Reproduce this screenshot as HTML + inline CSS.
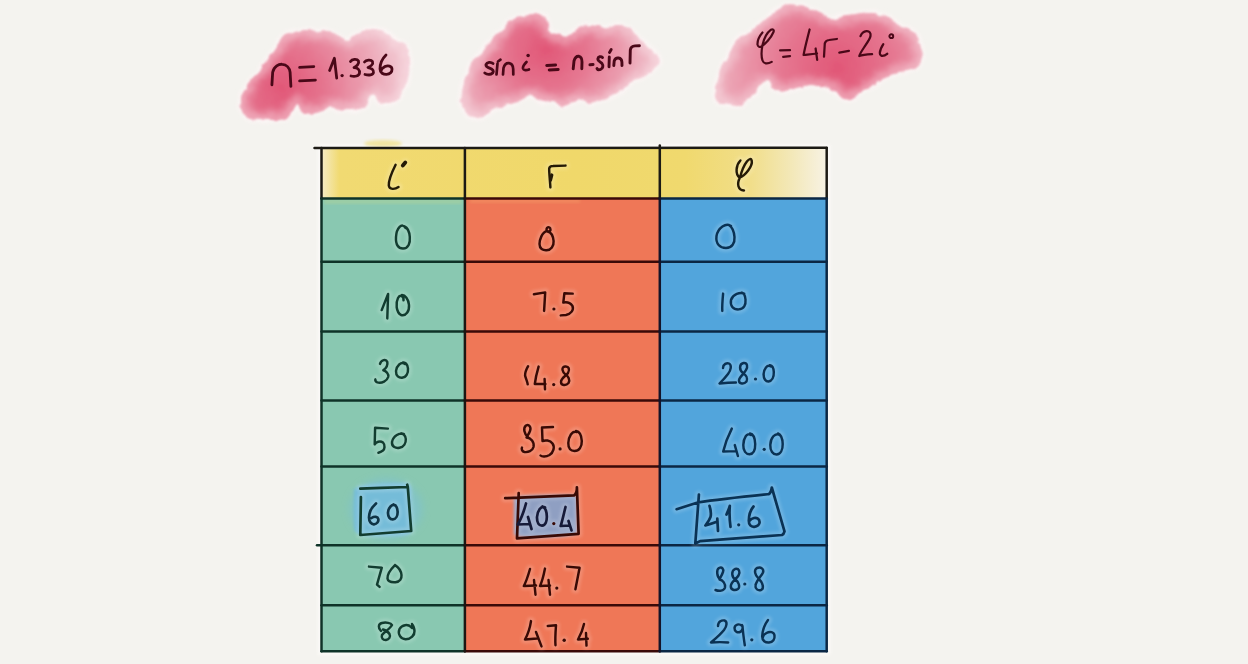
<!DOCTYPE html>
<html><head><meta charset="utf-8">
<style>
html,body{margin:0;padding:0;background:#f4f3ef;}
body{width:1248px;height:664px;overflow:hidden;position:relative;font-family:"Liberation Sans",sans-serif;}
svg{position:absolute;left:0;top:0;display:block;filter:blur(0.4px);}
.mul{mix-blend-mode:multiply;}
</style></head><body>
<svg width="1248" height="664" viewBox="0 0 1248 664">
<defs>
<filter id="rough" x="-10%" y="-10%" width="120%" height="120%">
<feTurbulence type="fractalNoise" baseFrequency="0.09" numOctaves="3" seed="3" result="n"/>
<feDisplacementMap in="SourceGraphic" in2="n" scale="6" xChannelSelector="R" yChannelSelector="G" result="d"/>
<feGaussianBlur in="d" stdDeviation="0.8"/>
</filter>
<filter id="halo" x="-10%" y="-10%" width="120%" height="120%">
<feTurbulence type="fractalNoise" baseFrequency="0.09" numOctaves="3" seed="3" result="n"/>
<feDisplacementMap in="SourceGraphic" in2="n" scale="6" xChannelSelector="R" yChannelSelector="G" result="d"/>
<feGaussianBlur in="d" stdDeviation="2"/>
</filter>
<filter id="blur4" x="-20%" y="-20%" width="140%" height="140%"><feGaussianBlur stdDeviation="4"/></filter>
<filter id="soft" x="-20%" y="-20%" width="140%" height="140%"><feGaussianBlur stdDeviation="1.6"/></filter>
<radialGradient id="pk1" gradientUnits="userSpaceOnUse" cx="282" cy="88" r="120">
<stop offset="0" stop-color="#e15777"/><stop offset="0.35" stop-color="#e5758f"/><stop offset="0.75" stop-color="#eca6b6"/><stop offset="1" stop-color="#f2c6d0"/>
</radialGradient>
<radialGradient id="pk2" gradientUnits="userSpaceOnUse" cx="545" cy="50" r="115">
<stop offset="0" stop-color="#e15777"/><stop offset="0.35" stop-color="#e5758f"/><stop offset="0.75" stop-color="#eca6b6"/><stop offset="1" stop-color="#f2c6d0"/>
</radialGradient>
<radialGradient id="pk3" gradientUnits="userSpaceOnUse" cx="838" cy="68" r="150">
<stop offset="0" stop-color="#e15777"/><stop offset="0.35" stop-color="#e5758f"/><stop offset="0.75" stop-color="#eca6b6"/><stop offset="1" stop-color="#f2c6d0"/>
</radialGradient>
<linearGradient id="yl" gradientUnits="userSpaceOnUse" x1="321.5" y1="0" x2="826.7" y2="0">
<stop offset="0" stop-color="#f5ebc6"/><stop offset="0.035" stop-color="#f1da72"/><stop offset="0.5" stop-color="#f0d86a"/><stop offset="0.72" stop-color="#f0d96e"/><stop offset="0.85" stop-color="#f1de8a"/><stop offset="0.93" stop-color="#f3e8b8"/><stop offset="1" stop-color="#f7f2e4"/>
</linearGradient>
</defs>
<g filter="url(#halo)" fill="none" stroke="#fdf6f6" stroke-width="5">
<path d="M265.1,63.6 C267.2,60.7 270.2,55.9 272.8,52.0 C275.4,48.1 278.4,43.5 280.5,40.5 C282.6,37.5 282.6,35.6 285.6,34.1 C288.6,32.6 294.2,32.1 298.5,31.5 C302.8,30.9 307.0,30.3 311.3,30.3 C315.6,30.3 319.8,30.9 324.1,31.5 C328.4,32.1 333.0,32.6 336.9,34.1 C340.8,35.6 344.6,40.1 347.2,40.5 C349.8,40.9 349.7,38.2 352.3,36.7 C354.9,35.2 359.2,32.8 362.6,31.5 C366.0,30.2 369.4,29.0 372.8,29.0 C376.2,29.0 379.2,29.8 383.1,31.5 C387.0,33.2 392.5,37.3 395.9,39.2 C399.3,41.1 401.7,41.6 403.6,43.1 C405.5,44.6 406.5,45.6 407.4,48.2 C408.2,50.8 408.4,54.9 408.7,58.5 C409.0,62.1 409.4,66.4 409.2,70.0 C409.0,73.6 408.4,76.8 407.5,80.0 C406.6,83.2 405.6,86.2 404.1,89.4 C402.6,92.6 400.9,96.9 398.3,99.2 C395.7,101.5 391.8,102.7 388.5,103.0 C385.2,103.3 381.1,102.5 378.7,101.1 C376.2,99.6 375.4,94.6 373.8,94.3 C372.2,94.0 371.1,96.9 369.0,99.2 C366.9,101.5 364.4,106.2 361.1,108.0 C357.8,109.8 353.0,109.8 349.4,110.0 C345.8,110.2 342.9,109.4 339.6,108.9 C336.3,108.4 332.7,106.6 329.8,107.0 C326.9,107.4 325.0,110.4 322.0,111.5 C319.0,112.6 314.9,113.3 312.0,113.5 C309.1,113.7 306.3,113.6 304.4,112.8 C302.5,112.0 301.6,110.5 300.5,108.9 C299.4,107.3 298.8,103.0 297.5,103.0 C296.2,103.0 294.7,106.3 292.6,108.9 C290.5,111.5 289.5,116.9 284.8,118.7 C280.1,120.5 270.1,119.7 264.2,119.7 C258.3,119.7 252.8,119.5 249.6,118.7 C246.3,117.9 246.3,116.8 244.7,114.8 C243.1,112.8 240.4,109.8 239.8,107.0 C239.2,104.2 240.0,100.9 241.0,98.0 C242.0,95.1 243.6,93.0 245.7,89.4 C247.8,85.8 251.1,79.9 253.5,76.6 C255.9,73.3 258.1,71.7 260.0,69.5 C261.9,67.3 263.0,66.5 265.1,63.6 Z"/>
<path d="M471.8,65.0 C474.0,61.7 477.4,57.3 480.2,53.8 C483.0,50.2 485.9,46.8 488.7,43.7 C491.5,40.6 494.6,38.1 497.1,35.3 C499.6,32.5 501.6,29.4 503.8,26.9 C506.0,24.4 507.4,22.1 510.5,20.1 C513.6,18.1 518.1,16.1 522.3,15.1 C526.5,14.1 532.1,14.0 535.8,14.3 C539.4,14.6 542.4,15.3 544.2,16.8 C546.0,18.3 545.9,21.3 546.7,23.5 C547.5,25.7 547.7,28.4 549.2,30.2 C550.8,32.0 553.5,33.1 556.0,34.4 C558.5,35.7 562.2,37.5 564.4,37.8 C566.6,38.1 567.4,37.4 569.4,36.1 C571.4,34.8 573.4,31.9 576.2,30.2 C579.0,28.5 582.6,26.7 586.2,26.0 C589.8,25.3 594.6,25.6 598.0,26.0 C601.4,26.4 603.3,28.6 606.4,28.6 C609.5,28.6 612.9,26.1 616.5,26.0 C620.1,25.9 625.2,26.4 628.3,27.7 C631.4,29.0 633.0,31.5 635.0,33.6 C637.0,35.7 637.9,38.0 640.1,40.3 C642.4,42.5 646.0,44.9 648.5,47.1 C651.0,49.4 653.5,51.6 655.2,53.8 C656.9,56.0 658.3,58.5 658.6,60.5 C658.9,62.5 658.0,64.1 656.9,66.0 C655.8,67.9 654.1,70.0 651.9,71.8 C649.7,73.6 646.6,75.1 643.5,76.8 C640.4,78.5 636.8,79.9 633.4,81.9 C630.0,83.9 626.7,86.4 623.3,88.6 C619.9,90.8 616.9,93.3 613.2,95.3 C609.6,97.3 605.3,99.0 601.4,100.4 C597.5,101.8 593.0,104.0 589.6,103.7 C586.2,103.4 584.0,99.0 581.2,98.7 C578.4,98.4 575.9,101.0 572.8,102.1 C569.7,103.2 566.1,105.4 562.7,105.4 C559.3,105.4 556.0,102.9 552.6,102.1 C549.2,101.3 545.9,101.4 542.5,100.4 C539.1,99.4 535.2,96.8 532.4,96.2 C529.6,95.6 528.2,96.0 525.7,97.0 C523.2,98.0 520.7,100.7 517.3,102.1 C513.9,103.5 509.7,104.0 505.5,105.4 C501.3,106.8 496.2,108.5 492.0,110.5 C487.8,112.5 483.8,116.4 480.2,117.2 C476.6,118.0 472.9,116.9 470.1,115.5 C467.3,114.1 464.8,111.6 463.4,108.8 C462.0,106.0 461.7,102.6 461.7,98.7 C461.7,94.8 462.5,89.4 463.4,85.2 C464.2,81.0 465.4,76.9 466.8,73.5 C468.2,70.1 469.6,68.3 471.8,65.0 Z"/>
<path d="M727.1,60.0 C728.6,57.8 730.8,51.3 732.6,47.9 C734.5,44.5 735.1,42.4 738.2,39.6 C741.3,36.8 746.8,34.5 751.1,31.3 C755.4,28.1 760.3,23.4 764.0,20.3 C767.7,17.2 770.1,15.1 773.2,12.9 C776.3,10.8 779.0,8.8 782.4,7.4 C785.8,6.0 789.5,4.6 793.5,4.6 C797.5,4.6 802.1,6.0 806.4,7.4 C810.7,8.8 815.9,11.1 819.3,12.9 C822.7,14.7 824.1,17.3 826.6,18.4 C829.1,19.5 830.9,19.7 834.0,19.4 C837.1,19.1 841.0,17.4 845.0,16.6 C849.0,15.8 853.7,15.3 858.0,14.7 C862.3,14.1 866.9,12.9 870.9,12.9 C874.9,12.9 878.2,13.5 881.9,14.7 C885.6,15.9 889.9,18.4 893.0,20.3 C896.1,22.2 897.9,24.6 900.4,25.8 C902.9,27.0 905.2,26.1 907.7,27.6 C910.2,29.1 913.0,31.9 915.1,35.0 C917.2,38.1 919.4,42.8 920.6,46.1 C921.8,49.4 922.8,51.9 922.5,55.0 C922.2,58.1 920.9,62.2 918.8,64.7 C916.6,67.2 913.0,69.1 909.6,70.3 C906.2,71.5 901.9,71.2 898.5,72.1 C895.1,73.0 892.4,74.3 889.3,75.8 C886.2,77.3 883.2,79.4 880.1,81.3 C877.0,83.2 874.0,85.1 870.9,86.9 C867.8,88.8 864.8,90.4 861.7,92.4 C858.6,94.4 855.8,97.9 852.4,98.8 C849.0,99.7 844.5,99.3 841.4,97.9 C838.3,96.5 836.8,92.3 834.0,90.5 C831.2,88.7 828.8,87.8 824.8,86.9 C820.8,86.0 814.6,84.8 810.0,85.0 C805.4,85.2 801.7,86.7 797.1,87.8 C792.5,88.9 786.4,91.3 782.4,91.5 C778.4,91.7 775.7,90.4 773.2,88.7 C770.8,87.0 769.6,82.2 767.7,81.3 C765.9,80.4 764.6,81.0 762.1,83.2 C759.6,85.4 756.3,90.8 752.9,94.2 C749.5,97.6 745.6,101.6 741.9,103.4 C738.2,105.2 734.5,105.6 730.8,105.3 C727.1,105.0 722.3,103.8 719.7,101.6 C717.1,99.4 715.7,95.5 715.1,92.4 C714.5,89.3 715.3,86.6 716.1,83.2 C716.9,79.8 718.5,75.8 719.7,72.1 C720.9,68.4 722.2,63.1 723.4,61.1 C724.6,59.1 725.6,62.2 727.1,60.0 Z"/>
</g>
<clipPath id="cb1"><path d="M265.1,63.6 C267.2,60.7 270.2,55.9 272.8,52.0 C275.4,48.1 278.4,43.5 280.5,40.5 C282.6,37.5 282.6,35.6 285.6,34.1 C288.6,32.6 294.2,32.1 298.5,31.5 C302.8,30.9 307.0,30.3 311.3,30.3 C315.6,30.3 319.8,30.9 324.1,31.5 C328.4,32.1 333.0,32.6 336.9,34.1 C340.8,35.6 344.6,40.1 347.2,40.5 C349.8,40.9 349.7,38.2 352.3,36.7 C354.9,35.2 359.2,32.8 362.6,31.5 C366.0,30.2 369.4,29.0 372.8,29.0 C376.2,29.0 379.2,29.8 383.1,31.5 C387.0,33.2 392.5,37.3 395.9,39.2 C399.3,41.1 401.7,41.6 403.6,43.1 C405.5,44.6 406.5,45.6 407.4,48.2 C408.2,50.8 408.4,54.9 408.7,58.5 C409.0,62.1 409.4,66.4 409.2,70.0 C409.0,73.6 408.4,76.8 407.5,80.0 C406.6,83.2 405.6,86.2 404.1,89.4 C402.6,92.6 400.9,96.9 398.3,99.2 C395.7,101.5 391.8,102.7 388.5,103.0 C385.2,103.3 381.1,102.5 378.7,101.1 C376.2,99.6 375.4,94.6 373.8,94.3 C372.2,94.0 371.1,96.9 369.0,99.2 C366.9,101.5 364.4,106.2 361.1,108.0 C357.8,109.8 353.0,109.8 349.4,110.0 C345.8,110.2 342.9,109.4 339.6,108.9 C336.3,108.4 332.7,106.6 329.8,107.0 C326.9,107.4 325.0,110.4 322.0,111.5 C319.0,112.6 314.9,113.3 312.0,113.5 C309.1,113.7 306.3,113.6 304.4,112.8 C302.5,112.0 301.6,110.5 300.5,108.9 C299.4,107.3 298.8,103.0 297.5,103.0 C296.2,103.0 294.7,106.3 292.6,108.9 C290.5,111.5 289.5,116.9 284.8,118.7 C280.1,120.5 270.1,119.7 264.2,119.7 C258.3,119.7 252.8,119.5 249.6,118.7 C246.3,117.9 246.3,116.8 244.7,114.8 C243.1,112.8 240.4,109.8 239.8,107.0 C239.2,104.2 240.0,100.9 241.0,98.0 C242.0,95.1 243.6,93.0 245.7,89.4 C247.8,85.8 251.1,79.9 253.5,76.6 C255.9,73.3 258.1,71.7 260.0,69.5 C261.9,67.3 263.0,66.5 265.1,63.6 Z"/></clipPath>
<clipPath id="cb2"><path d="M471.8,65.0 C474.0,61.7 477.4,57.3 480.2,53.8 C483.0,50.2 485.9,46.8 488.7,43.7 C491.5,40.6 494.6,38.1 497.1,35.3 C499.6,32.5 501.6,29.4 503.8,26.9 C506.0,24.4 507.4,22.1 510.5,20.1 C513.6,18.1 518.1,16.1 522.3,15.1 C526.5,14.1 532.1,14.0 535.8,14.3 C539.4,14.6 542.4,15.3 544.2,16.8 C546.0,18.3 545.9,21.3 546.7,23.5 C547.5,25.7 547.7,28.4 549.2,30.2 C550.8,32.0 553.5,33.1 556.0,34.4 C558.5,35.7 562.2,37.5 564.4,37.8 C566.6,38.1 567.4,37.4 569.4,36.1 C571.4,34.8 573.4,31.9 576.2,30.2 C579.0,28.5 582.6,26.7 586.2,26.0 C589.8,25.3 594.6,25.6 598.0,26.0 C601.4,26.4 603.3,28.6 606.4,28.6 C609.5,28.6 612.9,26.1 616.5,26.0 C620.1,25.9 625.2,26.4 628.3,27.7 C631.4,29.0 633.0,31.5 635.0,33.6 C637.0,35.7 637.9,38.0 640.1,40.3 C642.4,42.5 646.0,44.9 648.5,47.1 C651.0,49.4 653.5,51.6 655.2,53.8 C656.9,56.0 658.3,58.5 658.6,60.5 C658.9,62.5 658.0,64.1 656.9,66.0 C655.8,67.9 654.1,70.0 651.9,71.8 C649.7,73.6 646.6,75.1 643.5,76.8 C640.4,78.5 636.8,79.9 633.4,81.9 C630.0,83.9 626.7,86.4 623.3,88.6 C619.9,90.8 616.9,93.3 613.2,95.3 C609.6,97.3 605.3,99.0 601.4,100.4 C597.5,101.8 593.0,104.0 589.6,103.7 C586.2,103.4 584.0,99.0 581.2,98.7 C578.4,98.4 575.9,101.0 572.8,102.1 C569.7,103.2 566.1,105.4 562.7,105.4 C559.3,105.4 556.0,102.9 552.6,102.1 C549.2,101.3 545.9,101.4 542.5,100.4 C539.1,99.4 535.2,96.8 532.4,96.2 C529.6,95.6 528.2,96.0 525.7,97.0 C523.2,98.0 520.7,100.7 517.3,102.1 C513.9,103.5 509.7,104.0 505.5,105.4 C501.3,106.8 496.2,108.5 492.0,110.5 C487.8,112.5 483.8,116.4 480.2,117.2 C476.6,118.0 472.9,116.9 470.1,115.5 C467.3,114.1 464.8,111.6 463.4,108.8 C462.0,106.0 461.7,102.6 461.7,98.7 C461.7,94.8 462.5,89.4 463.4,85.2 C464.2,81.0 465.4,76.9 466.8,73.5 C468.2,70.1 469.6,68.3 471.8,65.0 Z"/></clipPath>
<clipPath id="cb3"><path d="M727.1,60.0 C728.6,57.8 730.8,51.3 732.6,47.9 C734.5,44.5 735.1,42.4 738.2,39.6 C741.3,36.8 746.8,34.5 751.1,31.3 C755.4,28.1 760.3,23.4 764.0,20.3 C767.7,17.2 770.1,15.1 773.2,12.9 C776.3,10.8 779.0,8.8 782.4,7.4 C785.8,6.0 789.5,4.6 793.5,4.6 C797.5,4.6 802.1,6.0 806.4,7.4 C810.7,8.8 815.9,11.1 819.3,12.9 C822.7,14.7 824.1,17.3 826.6,18.4 C829.1,19.5 830.9,19.7 834.0,19.4 C837.1,19.1 841.0,17.4 845.0,16.6 C849.0,15.8 853.7,15.3 858.0,14.7 C862.3,14.1 866.9,12.9 870.9,12.9 C874.9,12.9 878.2,13.5 881.9,14.7 C885.6,15.9 889.9,18.4 893.0,20.3 C896.1,22.2 897.9,24.6 900.4,25.8 C902.9,27.0 905.2,26.1 907.7,27.6 C910.2,29.1 913.0,31.9 915.1,35.0 C917.2,38.1 919.4,42.8 920.6,46.1 C921.8,49.4 922.8,51.9 922.5,55.0 C922.2,58.1 920.9,62.2 918.8,64.7 C916.6,67.2 913.0,69.1 909.6,70.3 C906.2,71.5 901.9,71.2 898.5,72.1 C895.1,73.0 892.4,74.3 889.3,75.8 C886.2,77.3 883.2,79.4 880.1,81.3 C877.0,83.2 874.0,85.1 870.9,86.9 C867.8,88.8 864.8,90.4 861.7,92.4 C858.6,94.4 855.8,97.9 852.4,98.8 C849.0,99.7 844.5,99.3 841.4,97.9 C838.3,96.5 836.8,92.3 834.0,90.5 C831.2,88.7 828.8,87.8 824.8,86.9 C820.8,86.0 814.6,84.8 810.0,85.0 C805.4,85.2 801.7,86.7 797.1,87.8 C792.5,88.9 786.4,91.3 782.4,91.5 C778.4,91.7 775.7,90.4 773.2,88.7 C770.8,87.0 769.6,82.2 767.7,81.3 C765.9,80.4 764.6,81.0 762.1,83.2 C759.6,85.4 756.3,90.8 752.9,94.2 C749.5,97.6 745.6,101.6 741.9,103.4 C738.2,105.2 734.5,105.6 730.8,105.3 C727.1,105.0 722.3,103.8 719.7,101.6 C717.1,99.4 715.7,95.5 715.1,92.4 C714.5,89.3 715.3,86.6 716.1,83.2 C716.9,79.8 718.5,75.8 719.7,72.1 C720.9,68.4 722.2,63.1 723.4,61.1 C724.6,59.1 725.6,62.2 727.1,60.0 Z"/></clipPath>
<g filter="url(#rough)">
<path d="M265.1,63.6 C267.2,60.7 270.2,55.9 272.8,52.0 C275.4,48.1 278.4,43.5 280.5,40.5 C282.6,37.5 282.6,35.6 285.6,34.1 C288.6,32.6 294.2,32.1 298.5,31.5 C302.8,30.9 307.0,30.3 311.3,30.3 C315.6,30.3 319.8,30.9 324.1,31.5 C328.4,32.1 333.0,32.6 336.9,34.1 C340.8,35.6 344.6,40.1 347.2,40.5 C349.8,40.9 349.7,38.2 352.3,36.7 C354.9,35.2 359.2,32.8 362.6,31.5 C366.0,30.2 369.4,29.0 372.8,29.0 C376.2,29.0 379.2,29.8 383.1,31.5 C387.0,33.2 392.5,37.3 395.9,39.2 C399.3,41.1 401.7,41.6 403.6,43.1 C405.5,44.6 406.5,45.6 407.4,48.2 C408.2,50.8 408.4,54.9 408.7,58.5 C409.0,62.1 409.4,66.4 409.2,70.0 C409.0,73.6 408.4,76.8 407.5,80.0 C406.6,83.2 405.6,86.2 404.1,89.4 C402.6,92.6 400.9,96.9 398.3,99.2 C395.7,101.5 391.8,102.7 388.5,103.0 C385.2,103.3 381.1,102.5 378.7,101.1 C376.2,99.6 375.4,94.6 373.8,94.3 C372.2,94.0 371.1,96.9 369.0,99.2 C366.9,101.5 364.4,106.2 361.1,108.0 C357.8,109.8 353.0,109.8 349.4,110.0 C345.8,110.2 342.9,109.4 339.6,108.9 C336.3,108.4 332.7,106.6 329.8,107.0 C326.9,107.4 325.0,110.4 322.0,111.5 C319.0,112.6 314.9,113.3 312.0,113.5 C309.1,113.7 306.3,113.6 304.4,112.8 C302.5,112.0 301.6,110.5 300.5,108.9 C299.4,107.3 298.8,103.0 297.5,103.0 C296.2,103.0 294.7,106.3 292.6,108.9 C290.5,111.5 289.5,116.9 284.8,118.7 C280.1,120.5 270.1,119.7 264.2,119.7 C258.3,119.7 252.8,119.5 249.6,118.7 C246.3,117.9 246.3,116.8 244.7,114.8 C243.1,112.8 240.4,109.8 239.8,107.0 C239.2,104.2 240.0,100.9 241.0,98.0 C242.0,95.1 243.6,93.0 245.7,89.4 C247.8,85.8 251.1,79.9 253.5,76.6 C255.9,73.3 258.1,71.7 260.0,69.5 C261.9,67.3 263.0,66.5 265.1,63.6 Z" fill="url(#pk1)"/>
<path d="M471.8,65.0 C474.0,61.7 477.4,57.3 480.2,53.8 C483.0,50.2 485.9,46.8 488.7,43.7 C491.5,40.6 494.6,38.1 497.1,35.3 C499.6,32.5 501.6,29.4 503.8,26.9 C506.0,24.4 507.4,22.1 510.5,20.1 C513.6,18.1 518.1,16.1 522.3,15.1 C526.5,14.1 532.1,14.0 535.8,14.3 C539.4,14.6 542.4,15.3 544.2,16.8 C546.0,18.3 545.9,21.3 546.7,23.5 C547.5,25.7 547.7,28.4 549.2,30.2 C550.8,32.0 553.5,33.1 556.0,34.4 C558.5,35.7 562.2,37.5 564.4,37.8 C566.6,38.1 567.4,37.4 569.4,36.1 C571.4,34.8 573.4,31.9 576.2,30.2 C579.0,28.5 582.6,26.7 586.2,26.0 C589.8,25.3 594.6,25.6 598.0,26.0 C601.4,26.4 603.3,28.6 606.4,28.6 C609.5,28.6 612.9,26.1 616.5,26.0 C620.1,25.9 625.2,26.4 628.3,27.7 C631.4,29.0 633.0,31.5 635.0,33.6 C637.0,35.7 637.9,38.0 640.1,40.3 C642.4,42.5 646.0,44.9 648.5,47.1 C651.0,49.4 653.5,51.6 655.2,53.8 C656.9,56.0 658.3,58.5 658.6,60.5 C658.9,62.5 658.0,64.1 656.9,66.0 C655.8,67.9 654.1,70.0 651.9,71.8 C649.7,73.6 646.6,75.1 643.5,76.8 C640.4,78.5 636.8,79.9 633.4,81.9 C630.0,83.9 626.7,86.4 623.3,88.6 C619.9,90.8 616.9,93.3 613.2,95.3 C609.6,97.3 605.3,99.0 601.4,100.4 C597.5,101.8 593.0,104.0 589.6,103.7 C586.2,103.4 584.0,99.0 581.2,98.7 C578.4,98.4 575.9,101.0 572.8,102.1 C569.7,103.2 566.1,105.4 562.7,105.4 C559.3,105.4 556.0,102.9 552.6,102.1 C549.2,101.3 545.9,101.4 542.5,100.4 C539.1,99.4 535.2,96.8 532.4,96.2 C529.6,95.6 528.2,96.0 525.7,97.0 C523.2,98.0 520.7,100.7 517.3,102.1 C513.9,103.5 509.7,104.0 505.5,105.4 C501.3,106.8 496.2,108.5 492.0,110.5 C487.8,112.5 483.8,116.4 480.2,117.2 C476.6,118.0 472.9,116.9 470.1,115.5 C467.3,114.1 464.8,111.6 463.4,108.8 C462.0,106.0 461.7,102.6 461.7,98.7 C461.7,94.8 462.5,89.4 463.4,85.2 C464.2,81.0 465.4,76.9 466.8,73.5 C468.2,70.1 469.6,68.3 471.8,65.0 Z" fill="url(#pk2)"/>
<path d="M727.1,60.0 C728.6,57.8 730.8,51.3 732.6,47.9 C734.5,44.5 735.1,42.4 738.2,39.6 C741.3,36.8 746.8,34.5 751.1,31.3 C755.4,28.1 760.3,23.4 764.0,20.3 C767.7,17.2 770.1,15.1 773.2,12.9 C776.3,10.8 779.0,8.8 782.4,7.4 C785.8,6.0 789.5,4.6 793.5,4.6 C797.5,4.6 802.1,6.0 806.4,7.4 C810.7,8.8 815.9,11.1 819.3,12.9 C822.7,14.7 824.1,17.3 826.6,18.4 C829.1,19.5 830.9,19.7 834.0,19.4 C837.1,19.1 841.0,17.4 845.0,16.6 C849.0,15.8 853.7,15.3 858.0,14.7 C862.3,14.1 866.9,12.9 870.9,12.9 C874.9,12.9 878.2,13.5 881.9,14.7 C885.6,15.9 889.9,18.4 893.0,20.3 C896.1,22.2 897.9,24.6 900.4,25.8 C902.9,27.0 905.2,26.1 907.7,27.6 C910.2,29.1 913.0,31.9 915.1,35.0 C917.2,38.1 919.4,42.8 920.6,46.1 C921.8,49.4 922.8,51.9 922.5,55.0 C922.2,58.1 920.9,62.2 918.8,64.7 C916.6,67.2 913.0,69.1 909.6,70.3 C906.2,71.5 901.9,71.2 898.5,72.1 C895.1,73.0 892.4,74.3 889.3,75.8 C886.2,77.3 883.2,79.4 880.1,81.3 C877.0,83.2 874.0,85.1 870.9,86.9 C867.8,88.8 864.8,90.4 861.7,92.4 C858.6,94.4 855.8,97.9 852.4,98.8 C849.0,99.7 844.5,99.3 841.4,97.9 C838.3,96.5 836.8,92.3 834.0,90.5 C831.2,88.7 828.8,87.8 824.8,86.9 C820.8,86.0 814.6,84.8 810.0,85.0 C805.4,85.2 801.7,86.7 797.1,87.8 C792.5,88.9 786.4,91.3 782.4,91.5 C778.4,91.7 775.7,90.4 773.2,88.7 C770.8,87.0 769.6,82.2 767.7,81.3 C765.9,80.4 764.6,81.0 762.1,83.2 C759.6,85.4 756.3,90.8 752.9,94.2 C749.5,97.6 745.6,101.6 741.9,103.4 C738.2,105.2 734.5,105.6 730.8,105.3 C727.1,105.0 722.3,103.8 719.7,101.6 C717.1,99.4 715.7,95.5 715.1,92.4 C714.5,89.3 715.3,86.6 716.1,83.2 C716.9,79.8 718.5,75.8 719.7,72.1 C720.9,68.4 722.2,63.1 723.4,61.1 C724.6,59.1 725.6,62.2 727.1,60.0 Z" fill="url(#pk3)"/>
<g clip-path="url(#cb1)"><path d="M265.1,63.6 C267.2,60.7 270.2,55.9 272.8,52.0 C275.4,48.1 278.4,43.5 280.5,40.5 C282.6,37.5 282.6,35.6 285.6,34.1 C288.6,32.6 294.2,32.1 298.5,31.5 C302.8,30.9 307.0,30.3 311.3,30.3 C315.6,30.3 319.8,30.9 324.1,31.5 C328.4,32.1 333.0,32.6 336.9,34.1 C340.8,35.6 344.6,40.1 347.2,40.5 C349.8,40.9 349.7,38.2 352.3,36.7 C354.9,35.2 359.2,32.8 362.6,31.5 C366.0,30.2 369.4,29.0 372.8,29.0 C376.2,29.0 379.2,29.8 383.1,31.5 C387.0,33.2 392.5,37.3 395.9,39.2 C399.3,41.1 401.7,41.6 403.6,43.1 C405.5,44.6 406.5,45.6 407.4,48.2 C408.2,50.8 408.4,54.9 408.7,58.5 C409.0,62.1 409.4,66.4 409.2,70.0 C409.0,73.6 408.4,76.8 407.5,80.0 C406.6,83.2 405.6,86.2 404.1,89.4 C402.6,92.6 400.9,96.9 398.3,99.2 C395.7,101.5 391.8,102.7 388.5,103.0 C385.2,103.3 381.1,102.5 378.7,101.1 C376.2,99.6 375.4,94.6 373.8,94.3 C372.2,94.0 371.1,96.9 369.0,99.2 C366.9,101.5 364.4,106.2 361.1,108.0 C357.8,109.8 353.0,109.8 349.4,110.0 C345.8,110.2 342.9,109.4 339.6,108.9 C336.3,108.4 332.7,106.6 329.8,107.0 C326.9,107.4 325.0,110.4 322.0,111.5 C319.0,112.6 314.9,113.3 312.0,113.5 C309.1,113.7 306.3,113.6 304.4,112.8 C302.5,112.0 301.6,110.5 300.5,108.9 C299.4,107.3 298.8,103.0 297.5,103.0 C296.2,103.0 294.7,106.3 292.6,108.9 C290.5,111.5 289.5,116.9 284.8,118.7 C280.1,120.5 270.1,119.7 264.2,119.7 C258.3,119.7 252.8,119.5 249.6,118.7 C246.3,117.9 246.3,116.8 244.7,114.8 C243.1,112.8 240.4,109.8 239.8,107.0 C239.2,104.2 240.0,100.9 241.0,98.0 C242.0,95.1 243.6,93.0 245.7,89.4 C247.8,85.8 251.1,79.9 253.5,76.6 C255.9,73.3 258.1,71.7 260.0,69.5 C261.9,67.3 263.0,66.5 265.1,63.6 Z" fill="none" stroke="#fbe8ec" stroke-width="14" opacity="0.45" filter="url(#blur4)"/></g>
<g clip-path="url(#cb2)"><path d="M471.8,65.0 C474.0,61.7 477.4,57.3 480.2,53.8 C483.0,50.2 485.9,46.8 488.7,43.7 C491.5,40.6 494.6,38.1 497.1,35.3 C499.6,32.5 501.6,29.4 503.8,26.9 C506.0,24.4 507.4,22.1 510.5,20.1 C513.6,18.1 518.1,16.1 522.3,15.1 C526.5,14.1 532.1,14.0 535.8,14.3 C539.4,14.6 542.4,15.3 544.2,16.8 C546.0,18.3 545.9,21.3 546.7,23.5 C547.5,25.7 547.7,28.4 549.2,30.2 C550.8,32.0 553.5,33.1 556.0,34.4 C558.5,35.7 562.2,37.5 564.4,37.8 C566.6,38.1 567.4,37.4 569.4,36.1 C571.4,34.8 573.4,31.9 576.2,30.2 C579.0,28.5 582.6,26.7 586.2,26.0 C589.8,25.3 594.6,25.6 598.0,26.0 C601.4,26.4 603.3,28.6 606.4,28.6 C609.5,28.6 612.9,26.1 616.5,26.0 C620.1,25.9 625.2,26.4 628.3,27.7 C631.4,29.0 633.0,31.5 635.0,33.6 C637.0,35.7 637.9,38.0 640.1,40.3 C642.4,42.5 646.0,44.9 648.5,47.1 C651.0,49.4 653.5,51.6 655.2,53.8 C656.9,56.0 658.3,58.5 658.6,60.5 C658.9,62.5 658.0,64.1 656.9,66.0 C655.8,67.9 654.1,70.0 651.9,71.8 C649.7,73.6 646.6,75.1 643.5,76.8 C640.4,78.5 636.8,79.9 633.4,81.9 C630.0,83.9 626.7,86.4 623.3,88.6 C619.9,90.8 616.9,93.3 613.2,95.3 C609.6,97.3 605.3,99.0 601.4,100.4 C597.5,101.8 593.0,104.0 589.6,103.7 C586.2,103.4 584.0,99.0 581.2,98.7 C578.4,98.4 575.9,101.0 572.8,102.1 C569.7,103.2 566.1,105.4 562.7,105.4 C559.3,105.4 556.0,102.9 552.6,102.1 C549.2,101.3 545.9,101.4 542.5,100.4 C539.1,99.4 535.2,96.8 532.4,96.2 C529.6,95.6 528.2,96.0 525.7,97.0 C523.2,98.0 520.7,100.7 517.3,102.1 C513.9,103.5 509.7,104.0 505.5,105.4 C501.3,106.8 496.2,108.5 492.0,110.5 C487.8,112.5 483.8,116.4 480.2,117.2 C476.6,118.0 472.9,116.9 470.1,115.5 C467.3,114.1 464.8,111.6 463.4,108.8 C462.0,106.0 461.7,102.6 461.7,98.7 C461.7,94.8 462.5,89.4 463.4,85.2 C464.2,81.0 465.4,76.9 466.8,73.5 C468.2,70.1 469.6,68.3 471.8,65.0 Z" fill="none" stroke="#fbe8ec" stroke-width="14" opacity="0.45" filter="url(#blur4)"/></g>
<g clip-path="url(#cb3)"><path d="M727.1,60.0 C728.6,57.8 730.8,51.3 732.6,47.9 C734.5,44.5 735.1,42.4 738.2,39.6 C741.3,36.8 746.8,34.5 751.1,31.3 C755.4,28.1 760.3,23.4 764.0,20.3 C767.7,17.2 770.1,15.1 773.2,12.9 C776.3,10.8 779.0,8.8 782.4,7.4 C785.8,6.0 789.5,4.6 793.5,4.6 C797.5,4.6 802.1,6.0 806.4,7.4 C810.7,8.8 815.9,11.1 819.3,12.9 C822.7,14.7 824.1,17.3 826.6,18.4 C829.1,19.5 830.9,19.7 834.0,19.4 C837.1,19.1 841.0,17.4 845.0,16.6 C849.0,15.8 853.7,15.3 858.0,14.7 C862.3,14.1 866.9,12.9 870.9,12.9 C874.9,12.9 878.2,13.5 881.9,14.7 C885.6,15.9 889.9,18.4 893.0,20.3 C896.1,22.2 897.9,24.6 900.4,25.8 C902.9,27.0 905.2,26.1 907.7,27.6 C910.2,29.1 913.0,31.9 915.1,35.0 C917.2,38.1 919.4,42.8 920.6,46.1 C921.8,49.4 922.8,51.9 922.5,55.0 C922.2,58.1 920.9,62.2 918.8,64.7 C916.6,67.2 913.0,69.1 909.6,70.3 C906.2,71.5 901.9,71.2 898.5,72.1 C895.1,73.0 892.4,74.3 889.3,75.8 C886.2,77.3 883.2,79.4 880.1,81.3 C877.0,83.2 874.0,85.1 870.9,86.9 C867.8,88.8 864.8,90.4 861.7,92.4 C858.6,94.4 855.8,97.9 852.4,98.8 C849.0,99.7 844.5,99.3 841.4,97.9 C838.3,96.5 836.8,92.3 834.0,90.5 C831.2,88.7 828.8,87.8 824.8,86.9 C820.8,86.0 814.6,84.8 810.0,85.0 C805.4,85.2 801.7,86.7 797.1,87.8 C792.5,88.9 786.4,91.3 782.4,91.5 C778.4,91.7 775.7,90.4 773.2,88.7 C770.8,87.0 769.6,82.2 767.7,81.3 C765.9,80.4 764.6,81.0 762.1,83.2 C759.6,85.4 756.3,90.8 752.9,94.2 C749.5,97.6 745.6,101.6 741.9,103.4 C738.2,105.2 734.5,105.6 730.8,105.3 C727.1,105.0 722.3,103.8 719.7,101.6 C717.1,99.4 715.7,95.5 715.1,92.4 C714.5,89.3 715.3,86.6 716.1,83.2 C716.9,79.8 718.5,75.8 719.7,72.1 C720.9,68.4 722.2,63.1 723.4,61.1 C724.6,59.1 725.6,62.2 727.1,60.0 Z" fill="none" stroke="#fbe8ec" stroke-width="14" opacity="0.45" filter="url(#blur4)"/></g>
</g>
<rect x="320.5" y="147" width="507.20000000000005" height="505.20000000000005" fill="none" stroke="#fcfaf8" stroke-width="6" filter="url(#soft)" opacity="0.8"/>
<rect x="321.5" y="148" width="505.20000000000005" height="50.599999999999994" fill="url(#yl)"/>
<rect x="321.5" y="198.6" width="143.4" height="63.2" fill="#89c8b1"/>
<rect x="464.9" y="198.6" width="194.9" height="63.2" fill="#ef7757"/>
<rect x="659.8" y="198.6" width="166.9" height="63.2" fill="#52a5dc"/>
<rect x="321.5" y="261.8" width="143.4" height="69.7" fill="#89c8b1"/>
<rect x="464.9" y="261.8" width="194.9" height="69.7" fill="#ef7757"/>
<rect x="659.8" y="261.8" width="166.9" height="69.7" fill="#52a5dc"/>
<rect x="321.5" y="331.5" width="143.4" height="68.9" fill="#89c8b1"/>
<rect x="464.9" y="331.5" width="194.9" height="68.9" fill="#ef7757"/>
<rect x="659.8" y="331.5" width="166.9" height="68.9" fill="#52a5dc"/>
<rect x="321.5" y="400.4" width="143.4" height="66.0" fill="#89c8b1"/>
<rect x="464.9" y="400.4" width="194.9" height="66.0" fill="#ef7757"/>
<rect x="659.8" y="400.4" width="166.9" height="66.0" fill="#52a5dc"/>
<rect x="321.5" y="466.4" width="143.4" height="78.8" fill="#89c8b1"/>
<rect x="464.9" y="466.4" width="194.9" height="78.8" fill="#ef7757"/>
<rect x="659.8" y="466.4" width="166.9" height="78.8" fill="#52a5dc"/>
<rect x="321.5" y="545.2" width="143.4" height="60.1" fill="#89c8b1"/>
<rect x="464.9" y="545.2" width="194.9" height="60.1" fill="#ef7757"/>
<rect x="659.8" y="545.2" width="166.9" height="60.1" fill="#52a5dc"/>
<rect x="321.5" y="605.3" width="143.4" height="45.9" fill="#89c8b1"/>
<rect x="464.9" y="605.3" width="194.9" height="45.9" fill="#ef7757"/>
<rect x="659.8" y="605.3" width="166.9" height="45.9" fill="#52a5dc"/>
<ellipse cx="383" cy="143.5" rx="19" ry="3.5" fill="#f1e4a2" filter="url(#soft)"/>
<rect x="324" y="199" width="138" height="5" fill="#b5d496" opacity="0.45" filter="url(#soft)"/>
<rect x="470" y="199.5" width="110" height="3" fill="#f4a468" opacity="0.5" filter="url(#soft)"/>
<ellipse cx="386" cy="509" rx="36" ry="30" fill="#7cc0da" opacity="0.55" filter="url(#blur4)"/>
<path d="M354,490 C356,484 380,483 405,483 C411,483 412,488 411,495 L411.5,531 C411,536 400,536 380,536 C362,536 355,535 354,528 Z" fill="#74bcd9" filter="url(#soft)" opacity="0.95"/>
<path d="M514,498 C516,495 545,495 574,495 L577,497 L577.5,532 C577,536 560,537 540,537.5 C525,537.5 516,537 514,534 Z" fill="#8f9fc2" filter="url(#soft)"/>
<g fill="none" stroke-linecap="round" stroke-linejoin="round" stroke-width="2.5">
<path d="M314.5,148.0 L826.7,147.7" stroke="#1c1a14"/>
<path d="M321.5,198.6 L464.9,198.6" stroke="#0f3328"/>
<path d="M464.9,198.6 L659.8,198.6" stroke="#3a0a08"/>
<path d="M659.8,198.6 L826.7,198.6" stroke="#0b2744"/>
<path d="M321.5,261.8 L464.9,261.8" stroke="#0f3328"/>
<path d="M464.9,261.8 L659.8,261.8" stroke="#3a0a08"/>
<path d="M659.8,261.8 L826.7,261.8" stroke="#0b2744"/>
<path d="M321.5,331.5 L464.9,331.5" stroke="#0f3328"/>
<path d="M464.9,331.5 L659.8,331.5" stroke="#3a0a08"/>
<path d="M659.8,331.5 L826.7,331.5" stroke="#0b2744"/>
<path d="M321.5,400.4 L464.9,400.4" stroke="#0f3328"/>
<path d="M464.9,400.4 L659.8,400.4" stroke="#3a0a08"/>
<path d="M659.8,400.4 L826.7,400.4" stroke="#0b2744"/>
<path d="M321.5,466.4 L464.9,466.4" stroke="#0f3328"/>
<path d="M464.9,466.4 L659.8,466.4" stroke="#3a0a08"/>
<path d="M659.8,466.4 L826.7,466.4" stroke="#0b2744"/>
<path d="M317.0,545.2 L464.9,545.2" stroke="#0f3328"/>
<path d="M464.9,545.2 L659.8,545.2" stroke="#3a0a08"/>
<path d="M659.8,545.2 L826.7,545.2" stroke="#0b2744"/>
<path d="M321.5,605.3 L464.9,605.3" stroke="#0f3328"/>
<path d="M464.9,605.3 L659.8,605.3" stroke="#3a0a08"/>
<path d="M659.8,605.3 L826.7,605.3" stroke="#0b2744"/>
<path d="M321.5,651.2 L464.9,651.2" stroke="#0f3328"/>
<path d="M464.9,651.2 L659.8,651.2" stroke="#3a0a08"/>
<path d="M659.8,651.2 L826.7,651.2" stroke="#0b2744"/>
<path d="M321.5,148.0 L321.5,198.6" stroke="#1c1a14"/>
<path d="M321.5,198.6 L321.5,651.2" stroke="#0f3328"/>
<path d="M464.9,148.0 L464.9,198.6" stroke="#1c1a14"/>
<path d="M464.9,198.6 L464.9,651.2" stroke="#1c1612"/>
<path d="M659.8,145.5 L659.8,198.6" stroke="#1c1a14"/>
<path d="M659.8,198.6 L659.8,651.2" stroke="#14142a"/>
<path d="M826.7,148.0 L826.7,198.6" stroke="#1c1a14"/>
<path d="M826.7,198.6 L826.7,651.2" stroke="#0b2744"/>
</g>
<g fill="none" stroke="#ffffff" stroke-linecap="round" stroke-linejoin="round" opacity="0.16" filter="url(#soft)">
<path d="M395.6,164.8 C392,172 388.5,180 388.8,185.5 C389.2,190 395,189.5 398.5,187" stroke-width="8"/>
<path d="M402.8,165.5 L405.3,162.5" stroke-width="8"/>
<path d="M550.4,187.4 C550,180 549,172 549.2,168.5 C549.5,166.5 551,166 553,166 L565.5,165.6" stroke-width="8"/>
<path d="M550.5,180 L551.8,175" stroke-width="8"/>
<path d="M740.4,160.5 C736,165 735,174 739.5,177.5 C745,176 753,166 751.7,160.5 C750.5,156 744,162 740,177.5 C736.5,184 738,190 744,190.5" stroke-width="8"/>
<path d="M405.5,228 C402,222 396.5,228 396,237 C395.5,245 398.5,248.5 403,248.5 C408.5,248.5 410.3,243 409.8,237 C409.3,231 407,227.5 404.5,226.5" stroke-width="8"/>
<path d="M547,231 C545,227 550,226 550.5,229 C551,231 548.5,232 547,231 C542,232 539.5,240 539.5,244 C539.5,249 543,250.5 546.5,250.3 C551,250 554,246 553.6,241 C553,235 550,232 547.5,231.5" stroke-width="8"/>
<path d="M731,226 C726,222 718,228 716.5,236 C715.5,244 720,248 726,248 C732,248 735,243 734.5,237 C734,231 732,227 729,225" stroke-width="8"/>
<path d="M381.7,310.1 L388.1,293.9 L387.3,318.4" stroke-width="8"/>
<path d="M403.5,300.3 C404,296 400,294 398,298 C395.5,303 396,312 401,315 C406,316.5 409.5,311 409,305 C408.5,299 405,295 402,295" stroke-width="8"/>
<path d="M533.9,294.3 L545.2,292.4 L544.1,310.9" stroke-width="8"/>
<path d="M553.9,309.0 l0.01,0" stroke-width="8"/>
<path d="M572.7,293.6 L564.4,293.2 L563.3,302.6 C566,302 570,302.5 572.5,306 C574,310 571,314 566,315 L560.7,315.4" stroke-width="8"/>
<path d="M723.1,293.6 C722.5,300 722,306 722.3,310.9" stroke-width="8"/>
<path d="M744.2,293.6 C740,292 733,294 731,300 C730,306 733,309.5 738.5,309.4 C744,309 746,305 745.5,299.5 C745,295 743.5,293 742,292.8" stroke-width="8"/>
<path d="M380,363.9 C381,360 386,358.5 387.3,362 C388,365.5 385,369 383.3,370.3 C386,371 389,374 388.2,377 C387,381 382,383.5 377.3,382.4 C375.5,381.8 375,380 375.4,379.4" stroke-width="8"/>
<path d="M405,364 C401,361 396.5,366 396,371 C395.8,376 399,378 402,377.8 C406.5,377.5 408.3,373 408,368.5 C407.6,364 405,362 403,362.5" stroke-width="8"/>
<path d="M528.1,366.2 C526.5,369 525,373 525.1,375.6 C526,379 527.5,382 527.7,384.3" stroke-width="8"/>
<path d="M538.6,366.6 C537,372 535.5,378 534.8,384 L545.4,383.9 M544.6,379 L545,389.2" stroke-width="8"/>
<path d="M553.7,384.6 l0.01,0" stroke-width="8"/>
<path d="M566,375 C562,372 561,367 565,366.5 C569,366 570,369.5 568,373 C566,376 561,378 561,382 C561,385.5 566,386 568.5,383 C570.5,380 568,376 566,375" stroke-width="8"/>
<path d="M723,368 C723,364 727,362.5 729,363.5 C732,365 731,370 728,374 C725,378 722,381 719.5,383.5 C724,383 730,382.5 735.9,382.5" stroke-width="8"/>
<path d="M743,373 C739,370 739,364 743.5,363 C747.5,362.5 748,367 746,370 C744,374 739,377 739,380.5 C739,384 744,384.5 746.5,381.5 C748,378.5 746,375 743,373" stroke-width="8"/>
<path d="M755.5,379.0 l0.01,0" stroke-width="8"/>
<path d="M771,366.5 C767,364 764,369 763.6,374 C763.4,379 766,381.6 768.5,381.5 C772,381 774,377 773.8,372 C773.6,368 772,365.5 770,365.2" stroke-width="8"/>
<path d="M387.9,428.6 L375.1,427.8 L374.7,444.4 C376,442 380,440.5 383,442.5 C385.5,445 384.5,449.5 383,450.5 C381,452 379.5,452.5 378.4,452.7" stroke-width="8"/>
<path d="M404,434 C400,432 393,436 392,442 C391.5,447 396,448.5 399.5,447.8 C404,447 406,443 405.8,439 C405.6,435.5 403,433.5 401,433.5" stroke-width="8"/>
<path d="M528,437 C524,434 523,428 526,425.5 C529,424 531.5,427 530,431 C529,434 527,436 526.5,437.5 C531,438 534.5,442 533.5,447 C532.5,451 528,452.5 524.5,452 C522,451.5 521.3,449 522,447.5" stroke-width="8"/>
<path d="M553,427 L542,427.5 L542.5,441 C545,440 550,440 552.5,443.5 C555,447 553.5,452.5 549.5,455 C546,457 542,457 540.5,455.5" stroke-width="8"/>
<path d="M560.1,448.9 l0.01,0" stroke-width="8"/>
<path d="M577,432 C572,430 568.5,437 568.3,443 C568.1,449 571,451 574.5,451 C579,451 582,447 581.8,441 C581.5,435 579,431.5 576,431" stroke-width="8"/>
<path d="M731.8,428.6 C728,436 725,444 723.2,451.5 L735.6,451.1 M734.8,445.1 L737.9,456" stroke-width="8"/>
<path d="M751,435 C747,432 743.5,438 743.3,445 C743.1,451 746,454.2 749.5,454.2 C753.5,454 755.3,450 755.2,444 C755,438 753,434 750,433.5" stroke-width="8"/>
<path d="M764.2,449.3 l0.01,0" stroke-width="8"/>
<path d="M780,435 C775,432 770.5,438 770.3,445 C770.1,451 773,454.5 776.5,454.5 C780.5,454.3 782.8,450 782.7,444 C782.5,438 780.5,434.5 778,433.5" stroke-width="8"/>
<path d="M360.3,488.6 C375,488 395,487.5 407.8,487 M407.2,484.7 L407.8,487 L411.2,531 M360.9,497.1 L360.3,535 L411.2,531" stroke-width="8"/>
<path d="M376,503.5 C372,507 369,512 369,517.5 C369,522 371.5,524.5 374,524.3 C377,524 378.8,521.5 378.3,519 C377.8,516.5 374.5,516 371.5,518" stroke-width="8"/>
<path d="M395.5,505.5 C392,503.5 388.2,508 388,512.5 C387.8,517 390,519.5 392.8,519.4 C396,519.2 397.8,515.5 397.6,511.5 C397.4,507.5 395.5,505 393.5,504.5" stroke-width="8"/>
<path d="M505.2,498.2 C530,497 555,496 574.1,495.3 C576,494 577,491 576.9,487.4 L578.6,533.8 L517,538.3 L518.7,493.1" stroke-width="8"/>
<path d="M526,503.5 C524,511 521,519 517.8,524.5 L530,524 M528,517 L531.5,529" stroke-width="8"/>
<path d="M545,507.5 C541,505 537.5,511 537,517 C536.8,523 539,525.8 542,525.7 C545.5,525.5 547,521 546.8,516 C546.6,511 545,507.5 542.5,506.5" stroke-width="8"/>
<path d="M553.8,523.6 l0.01,0" stroke-width="8"/>
<path d="M565.5,507 C564,513 562.5,520 560.7,526 L570,525.5 M568.5,521 L571.5,530.4" stroke-width="8"/>
<path d="M676.6,509.2 L697.7,502.5 C720,499 750,496 768.8,494.1 C770.5,493 771.5,490 771.8,487.5 L784.5,531.4 C784,533.5 783,534.5 782,535 L700.1,541.1 L695.3,543.5 M698.9,494.7 L695.3,543.5" stroke-width="8"/>
<path d="M709.5,505.8 C710.5,509 711.5,513 710.5,517 C709,521 706.5,524 705.4,525.5 C709,524.5 713.5,523 717.5,521.5 M717.3,518.7 L718,530.9" stroke-width="8"/>
<path d="M726.5,514.5 C727.5,512 729,509 729.8,505.8 C729.2,513 729.6,520 730.5,526.8" stroke-width="8"/>
<path d="M738.7,524.8 l0.01,0" stroke-width="8"/>
<path d="M753.5,506.5 C750.5,510 748.8,515 748.8,520.7 C748.8,525 751,527 754.2,526.8 C757.5,526.6 759.8,524.5 759.6,522 C759.4,519 757,517.5 754,518 C752,518.5 750.5,519.5 750,520.5" stroke-width="8"/>
<path d="M369,566.6 L381.8,567.7 L377,584.6 L379.6,586.9" stroke-width="8"/>
<path d="M395,565.1 C390,570 387.2,575 387.5,578.5 C388,582 392,582.4 395.5,582.2 C400,581.8 401.8,578.5 401.5,575 C401,570 398,567 395,565.1" stroke-width="8"/>
<path d="M530,569 C528,576 526,582 523.8,586 L536,585.5 M534,580 L535.5,594.7" stroke-width="8"/>
<path d="M545,568.6 C543.5,576 542,582 540,586 L550,585.5 M548.5,580 L550,594.7" stroke-width="8"/>
<path d="M556.8,588.1 l0.01,0" stroke-width="8"/>
<path d="M567.1,566.6 L579.6,567.8 L575.4,589.3" stroke-width="8"/>
<path d="M720,579 C717,577 716,570 719,568 C722,566.5 724,569 723,572 C722,575 720,578 719.5,579.5 C723,580 725.7,584 725,587.5 C724,591 719,591.5 715.5,590" stroke-width="8"/>
<path d="M735.5,579.5 C731.5,577 731,571 735,569 C739,568 740.6,572 738.5,575.5 C736.5,579 731,582 730.8,586 C730.6,590 735,591 738,589 C740.5,586.5 738.5,582 735.5,579.5" stroke-width="8"/>
<path d="M744.8,584.0 l0.01,0" stroke-width="8"/>
<path d="M758.5,578.5 C755,575 753.5,570 757,568 C761,566.5 764.2,569 763,572.5 C761.5,576 756,581 755.5,585.5 C755,589 758,590.8 761,590 C764,589 763.5,583 758.5,578.5" stroke-width="8"/>
<path d="M381,631 C378,628 378,624 382,623 C386,622 391,623 392,625 C390,629 384,632 382,635 C381,638 383,640.2 386,640 C389,639.5 391,637 389.5,634 C388,631.5 385,630 383,629.5" stroke-width="8"/>
<path d="M412,624 C413,628 412.5,629 411,627 C408,624 402,624.5 399.5,629 C397.5,634 400.5,639 405.5,639.2 C411,639.3 414.8,635 414.5,631 C414.2,627 413,625 412,624" stroke-width="8"/>
<path d="M531,621.1 C530,628 528,634 525,639.5 L537,638.5 M536,632 L541.5,646.4" stroke-width="8"/>
<path d="M547.7,626 L556,625.3 C555.5,632 555,639 555.5,645.2" stroke-width="8"/>
<path d="M564.2,640.2 l0.01,0" stroke-width="8"/>
<path d="M584,624 C582.5,631 580,636 578,639.5 L587.8,638.8 M586,633 L586.5,645.6" stroke-width="8"/>
<path d="M718,626 C718,621.5 722,619.9 724.5,620.5 C727.5,621.5 727,626 724,630 C720,635 715,639 711,642.5 C717,642 723,642 728.2,642.5" stroke-width="8"/>
<path d="M742,626 C739,623 735,624.5 734.5,628 C734.4,631.5 737.5,633 740,632 C742.5,631 743.5,627 742,625 M742.5,626 C743,633 744,640 744.8,645.2" stroke-width="8"/>
<path d="M751.8,639.8 l0.01,0" stroke-width="8"/>
<path d="M768,620 C765,624 762.5,631 762.2,636 C762,641 765.5,642.7 769,642.5 C773,642.2 775,639 774.5,635.5 C774,632 770,631 766.5,633 C764,634.5 763,636 763,637" stroke-width="8"/>
</g>
<g fill="none" stroke-linecap="round" stroke-linejoin="round">
<path d="M395.6,164.8 C392,172 388.5,180 388.8,185.5 C389.2,190 395,189.5 398.5,187" stroke-width="2.45" stroke="#241a06"/>
<path d="M402.8,165.5 L405.3,162.5" stroke-width="3.80" stroke="#241a06"/>
<path d="M550.4,187.4 C550,180 549,172 549.2,168.5 C549.5,166.5 551,166 553,166 L565.5,165.6" stroke-width="2.45" stroke="#241a06"/>
<path d="M550.5,180 L551.8,175" stroke-width="3.20" stroke="#241a06"/>
<path d="M740.4,160.5 C736,165 735,174 739.5,177.5 C745,176 753,166 751.7,160.5 C750.5,156 744,162 740,177.5 C736.5,184 738,190 744,190.5" stroke-width="2.45" stroke="#241a06"/>
<path d="M405.5,228 C402,222 396.5,228 396,237 C395.5,245 398.5,248.5 403,248.5 C408.5,248.5 410.3,243 409.8,237 C409.3,231 407,227.5 404.5,226.5" stroke-width="2.45" stroke="#123d30"/>
<path d="M547,231 C545,227 550,226 550.5,229 C551,231 548.5,232 547,231 C542,232 539.5,240 539.5,244 C539.5,249 543,250.5 546.5,250.3 C551,250 554,246 553.6,241 C553,235 550,232 547.5,231.5" stroke-width="2.45" stroke="#380a05"/>
<path d="M731,226 C726,222 718,228 716.5,236 C715.5,244 720,248 726,248 C732,248 735,243 734.5,237 C734,231 732,227 729,225" stroke-width="2.45" stroke="#0a3254"/>
<path d="M381.7,310.1 L388.1,293.9 L387.3,318.4" stroke-width="2.45" stroke="#123d30"/>
<path d="M403.5,300.3 C404,296 400,294 398,298 C395.5,303 396,312 401,315 C406,316.5 409.5,311 409,305 C408.5,299 405,295 402,295" stroke-width="2.45" stroke="#123d30"/>
<path d="M533.9,294.3 L545.2,292.4 L544.1,310.9" stroke-width="2.45" stroke="#380a05"/>
<path d="M553.9,309.0 l0.01,0" stroke-width="3.20" stroke="#380a05"/>
<path d="M572.7,293.6 L564.4,293.2 L563.3,302.6 C566,302 570,302.5 572.5,306 C574,310 571,314 566,315 L560.7,315.4" stroke-width="2.45" stroke="#380a05"/>
<path d="M723.1,293.6 C722.5,300 722,306 722.3,310.9" stroke-width="2.45" stroke="#0a3254"/>
<path d="M744.2,293.6 C740,292 733,294 731,300 C730,306 733,309.5 738.5,309.4 C744,309 746,305 745.5,299.5 C745,295 743.5,293 742,292.8" stroke-width="2.45" stroke="#0a3254"/>
<path d="M380,363.9 C381,360 386,358.5 387.3,362 C388,365.5 385,369 383.3,370.3 C386,371 389,374 388.2,377 C387,381 382,383.5 377.3,382.4 C375.5,381.8 375,380 375.4,379.4" stroke-width="2.45" stroke="#123d30"/>
<path d="M405,364 C401,361 396.5,366 396,371 C395.8,376 399,378 402,377.8 C406.5,377.5 408.3,373 408,368.5 C407.6,364 405,362 403,362.5" stroke-width="2.45" stroke="#123d30"/>
<path d="M528.1,366.2 C526.5,369 525,373 525.1,375.6 C526,379 527.5,382 527.7,384.3" stroke-width="2.45" stroke="#380a05"/>
<path d="M538.6,366.6 C537,372 535.5,378 534.8,384 L545.4,383.9 M544.6,379 L545,389.2" stroke-width="2.45" stroke="#380a05"/>
<path d="M553.7,384.6 l0.01,0" stroke-width="3.20" stroke="#380a05"/>
<path d="M566,375 C562,372 561,367 565,366.5 C569,366 570,369.5 568,373 C566,376 561,378 561,382 C561,385.5 566,386 568.5,383 C570.5,380 568,376 566,375" stroke-width="2.45" stroke="#380a05"/>
<path d="M723,368 C723,364 727,362.5 729,363.5 C732,365 731,370 728,374 C725,378 722,381 719.5,383.5 C724,383 730,382.5 735.9,382.5" stroke-width="2.45" stroke="#0a3254"/>
<path d="M743,373 C739,370 739,364 743.5,363 C747.5,362.5 748,367 746,370 C744,374 739,377 739,380.5 C739,384 744,384.5 746.5,381.5 C748,378.5 746,375 743,373" stroke-width="2.45" stroke="#0a3254"/>
<path d="M755.5,379.0 l0.01,0" stroke-width="3.20" stroke="#0a3254"/>
<path d="M771,366.5 C767,364 764,369 763.6,374 C763.4,379 766,381.6 768.5,381.5 C772,381 774,377 773.8,372 C773.6,368 772,365.5 770,365.2" stroke-width="2.45" stroke="#0a3254"/>
<path d="M387.9,428.6 L375.1,427.8 L374.7,444.4 C376,442 380,440.5 383,442.5 C385.5,445 384.5,449.5 383,450.5 C381,452 379.5,452.5 378.4,452.7" stroke-width="2.45" stroke="#123d30"/>
<path d="M404,434 C400,432 393,436 392,442 C391.5,447 396,448.5 399.5,447.8 C404,447 406,443 405.8,439 C405.6,435.5 403,433.5 401,433.5" stroke-width="2.45" stroke="#123d30"/>
<path d="M528,437 C524,434 523,428 526,425.5 C529,424 531.5,427 530,431 C529,434 527,436 526.5,437.5 C531,438 534.5,442 533.5,447 C532.5,451 528,452.5 524.5,452 C522,451.5 521.3,449 522,447.5" stroke-width="2.45" stroke="#380a05"/>
<path d="M553,427 L542,427.5 L542.5,441 C545,440 550,440 552.5,443.5 C555,447 553.5,452.5 549.5,455 C546,457 542,457 540.5,455.5" stroke-width="2.45" stroke="#380a05"/>
<path d="M560.1,448.9 l0.01,0" stroke-width="3.20" stroke="#380a05"/>
<path d="M577,432 C572,430 568.5,437 568.3,443 C568.1,449 571,451 574.5,451 C579,451 582,447 581.8,441 C581.5,435 579,431.5 576,431" stroke-width="2.45" stroke="#380a05"/>
<path d="M731.8,428.6 C728,436 725,444 723.2,451.5 L735.6,451.1 M734.8,445.1 L737.9,456" stroke-width="2.45" stroke="#0a3254"/>
<path d="M751,435 C747,432 743.5,438 743.3,445 C743.1,451 746,454.2 749.5,454.2 C753.5,454 755.3,450 755.2,444 C755,438 753,434 750,433.5" stroke-width="2.45" stroke="#0a3254"/>
<path d="M764.2,449.3 l0.01,0" stroke-width="3.20" stroke="#0a3254"/>
<path d="M780,435 C775,432 770.5,438 770.3,445 C770.1,451 773,454.5 776.5,454.5 C780.5,454.3 782.8,450 782.7,444 C782.5,438 780.5,434.5 778,433.5" stroke-width="2.45" stroke="#0a3254"/>
<path d="M360.3,488.6 C375,488 395,487.5 407.8,487 M407.2,484.7 L407.8,487 L411.2,531 M360.9,497.1 L360.3,535 L411.2,531" stroke-width="2.70" stroke="#123d30"/>
<path d="M376,503.5 C372,507 369,512 369,517.5 C369,522 371.5,524.5 374,524.3 C377,524 378.8,521.5 378.3,519 C377.8,516.5 374.5,516 371.5,518" stroke-width="2.70" stroke="#0f3446"/>
<path d="M395.5,505.5 C392,503.5 388.2,508 388,512.5 C387.8,517 390,519.5 392.8,519.4 C396,519.2 397.8,515.5 397.6,511.5 C397.4,507.5 395.5,505 393.5,504.5" stroke-width="2.70" stroke="#0f3446"/>
<path d="M505.2,498.2 C530,497 555,496 574.1,495.3 C576,494 577,491 576.9,487.4 L578.6,533.8 L517,538.3 L518.7,493.1" stroke-width="2.70" stroke="#380a05"/>
<path d="M526,503.5 C524,511 521,519 517.8,524.5 L530,524 M528,517 L531.5,529" stroke-width="2.70" stroke="#161a38"/>
<path d="M545,507.5 C541,505 537.5,511 537,517 C536.8,523 539,525.8 542,525.7 C545.5,525.5 547,521 546.8,516 C546.6,511 545,507.5 542.5,506.5" stroke-width="2.70" stroke="#161a38"/>
<path d="M553.8,523.6 l0.01,0" stroke-width="3.20" stroke="#380a05"/>
<path d="M565.5,507 C564,513 562.5,520 560.7,526 L570,525.5 M568.5,521 L571.5,530.4" stroke-width="2.70" stroke="#161a38"/>
<path d="M676.6,509.2 L697.7,502.5 C720,499 750,496 768.8,494.1 C770.5,493 771.5,490 771.8,487.5 L784.5,531.4 C784,533.5 783,534.5 782,535 L700.1,541.1 L695.3,543.5 M698.9,494.7 L695.3,543.5" stroke-width="2.70" stroke="#0a3254"/>
<path d="M709.5,505.8 C710.5,509 711.5,513 710.5,517 C709,521 706.5,524 705.4,525.5 C709,524.5 713.5,523 717.5,521.5 M717.3,518.7 L718,530.9" stroke-width="2.70" stroke="#0a3254"/>
<path d="M726.5,514.5 C727.5,512 729,509 729.8,505.8 C729.2,513 729.6,520 730.5,526.8" stroke-width="2.70" stroke="#0a3254"/>
<path d="M738.7,524.8 l0.01,0" stroke-width="3.20" stroke="#0a3254"/>
<path d="M753.5,506.5 C750.5,510 748.8,515 748.8,520.7 C748.8,525 751,527 754.2,526.8 C757.5,526.6 759.8,524.5 759.6,522 C759.4,519 757,517.5 754,518 C752,518.5 750.5,519.5 750,520.5" stroke-width="2.70" stroke="#0a3254"/>
<path d="M369,566.6 L381.8,567.7 L377,584.6 L379.6,586.9" stroke-width="2.45" stroke="#123d30"/>
<path d="M395,565.1 C390,570 387.2,575 387.5,578.5 C388,582 392,582.4 395.5,582.2 C400,581.8 401.8,578.5 401.5,575 C401,570 398,567 395,565.1" stroke-width="2.45" stroke="#123d30"/>
<path d="M530,569 C528,576 526,582 523.8,586 L536,585.5 M534,580 L535.5,594.7" stroke-width="2.45" stroke="#380a05"/>
<path d="M545,568.6 C543.5,576 542,582 540,586 L550,585.5 M548.5,580 L550,594.7" stroke-width="2.45" stroke="#380a05"/>
<path d="M556.8,588.1 l0.01,0" stroke-width="3.20" stroke="#380a05"/>
<path d="M567.1,566.6 L579.6,567.8 L575.4,589.3" stroke-width="2.45" stroke="#380a05"/>
<path d="M720,579 C717,577 716,570 719,568 C722,566.5 724,569 723,572 C722,575 720,578 719.5,579.5 C723,580 725.7,584 725,587.5 C724,591 719,591.5 715.5,590" stroke-width="2.45" stroke="#0a3254"/>
<path d="M735.5,579.5 C731.5,577 731,571 735,569 C739,568 740.6,572 738.5,575.5 C736.5,579 731,582 730.8,586 C730.6,590 735,591 738,589 C740.5,586.5 738.5,582 735.5,579.5" stroke-width="2.45" stroke="#0a3254"/>
<path d="M744.8,584.0 l0.01,0" stroke-width="3.20" stroke="#0a3254"/>
<path d="M758.5,578.5 C755,575 753.5,570 757,568 C761,566.5 764.2,569 763,572.5 C761.5,576 756,581 755.5,585.5 C755,589 758,590.8 761,590 C764,589 763.5,583 758.5,578.5" stroke-width="2.45" stroke="#0a3254"/>
<path d="M381,631 C378,628 378,624 382,623 C386,622 391,623 392,625 C390,629 384,632 382,635 C381,638 383,640.2 386,640 C389,639.5 391,637 389.5,634 C388,631.5 385,630 383,629.5" stroke-width="2.45" stroke="#123d30"/>
<path d="M412,624 C413,628 412.5,629 411,627 C408,624 402,624.5 399.5,629 C397.5,634 400.5,639 405.5,639.2 C411,639.3 414.8,635 414.5,631 C414.2,627 413,625 412,624" stroke-width="2.45" stroke="#123d30"/>
<path d="M531,621.1 C530,628 528,634 525,639.5 L537,638.5 M536,632 L541.5,646.4" stroke-width="2.45" stroke="#380a05"/>
<path d="M547.7,626 L556,625.3 C555.5,632 555,639 555.5,645.2" stroke-width="2.45" stroke="#380a05"/>
<path d="M564.2,640.2 l0.01,0" stroke-width="3.40" stroke="#380a05"/>
<path d="M584,624 C582.5,631 580,636 578,639.5 L587.8,638.8 M586,633 L586.5,645.6" stroke-width="2.45" stroke="#380a05"/>
<path d="M718,626 C718,621.5 722,619.9 724.5,620.5 C727.5,621.5 727,626 724,630 C720,635 715,639 711,642.5 C717,642 723,642 728.2,642.5" stroke-width="2.45" stroke="#0a3254"/>
<path d="M742,626 C739,623 735,624.5 734.5,628 C734.4,631.5 737.5,633 740,632 C742.5,631 743.5,627 742,625 M742.5,626 C743,633 744,640 744.8,645.2" stroke-width="2.45" stroke="#0a3254"/>
<path d="M751.8,639.8 l0.01,0" stroke-width="3.20" stroke="#0a3254"/>
<path d="M768,620 C765,624 762.5,631 762.2,636 C762,641 765.5,642.7 769,642.5 C773,642.2 775,639 774.5,635.5 C774,632 770,631 766.5,633 C764,634.5 763,636 763,637" stroke-width="2.45" stroke="#0a3254"/>
<path d="M271.9,84.8 L272.7,72.2 C274,66 279,64 282.2,64.3 C286.5,64.5 289.5,68 290.1,72.2 L290.9,86.4" stroke-width="2.80" stroke="#4a0818"/>
<path d="M299.6,67.4 L313.8,66.6 M299.6,80.9 L315.4,80.1" stroke-width="2.80" stroke="#4a0818"/>
<path d="M329.6,70.5 L334.4,58.3 L336.7,78.2" stroke-width="2.80" stroke="#4a0818"/>
<path d="M342.1,75.6 l0.01,0" stroke-width="3.30" stroke="#4a0818"/>
<path d="M350.5,61.5 C352,59 357,58.5 358.5,61 C359.5,63.5 356.5,66.5 354,67.5 C357.5,67.5 360,70 359.5,73 C359,76 355,77 351,76" stroke-width="2.80" stroke="#4a0818"/>
<path d="M364.5,62 C366,60 371,59.3 372.5,61.5 C373.5,64 370.5,66.5 368,67.5 C371.5,67.8 374,70 373.5,72.5 C373,75 369,75.5 365,74.5" stroke-width="2.80" stroke="#4a0818"/>
<path d="M386,55.1 C382,59 380,65 380,69 C380,73 383.5,74.5 386.5,74.4 C390,74.3 392.2,72 392,69 C391.8,66 388,65 385,66.5 C382.5,68 381,70 381,71" stroke-width="2.80" stroke="#4a0818"/>
<path d="M493,63.5 C491,61.7 487,62 486,64.5 C485.5,67 489,68 491.5,69 C494,70.5 494,73 491,74 C488,74.8 486,74 484.8,73" stroke-width="2.90" stroke="#4a0818"/>
<path d="M498,61.5 L500.5,59.7 M497.5,63.5 L496.5,74.5" stroke-width="2.70" stroke="#4a0818"/>
<path d="M503,74.5 L503.5,68 C504.5,64.5 507,63 509,63.2 C511.5,63.5 513,66 513.2,69 L513.3,74.5" stroke-width="2.70" stroke="#4a0818"/>
<path d="M526.5,62 C524,64.5 522.7,67 523,68.5 C523.5,70.5 526.5,70.6 529,69.5" stroke-width="2.70" stroke="#4a0818"/>
<path d="M528.1,55.5 l0.01,0" stroke-width="3.50" stroke="#4a0818"/>
<path d="M546.7,65.5 L555.6,65 M549.2,70 L558.2,69.5" stroke-width="2.90" stroke="#4a0818"/>
<path d="M573.2,68.8 L574,61 C575,57.5 577,56 579,56.3 C581,56.8 582,59 582,62 L581.8,68.8" stroke-width="2.90" stroke="#4a0818"/>
<path d="M590,64.8 L593,64.5" stroke-width="3.10" stroke="#4a0818"/>
<path d="M602.5,57.5 C601,56 598,56.5 597.8,59 C597.6,61 600.5,62 602,63.5 C603.5,65.5 603,68.5 600.5,69.5 C599,70.1 597.5,69.5 597,68.5" stroke-width="2.90" stroke="#4a0818"/>
<path d="M609.5,52.5 L611.2,49.6 M609.3,57 L609,66.9" stroke-width="2.90" stroke="#4a0818"/>
<path d="M613.8,65.6 L614.2,61 C615,58.5 617,57.8 618.5,58 C620.5,58.3 621.8,60 621.9,62 L622,65.6" stroke-width="2.90" stroke="#4a0818"/>
<path d="M630,63.1 L630.3,50 C630.8,47 633,46 635,45.9 L639.4,45.8" stroke-width="2.90" stroke="#4a0818"/>
<path d="M762.5,32.5 C759.5,36 757.3,41 757.5,44.6 C758,47 760,47.3 761,46.7 C765,44.5 771,38 773.5,32 C774.5,29.5 772.5,28.8 771,29.7 C768,32 764,38 762.5,45 C761.5,50 761,56 762.5,60.5 C763.5,63.5 767,64.5 771.7,61.9" stroke-width="2.20" stroke="#4a0818"/>
<path d="M780.1,50.4 L790,50.2 M783.2,56.8 L790,56.2" stroke-width="2.25" stroke="#4a0818"/>
<path d="M809.6,29.5 C807.5,38 805,47 803.6,55 C808,54.5 812,54 817,53.5 M815.6,48.5 L817.2,59.9" stroke-width="2.25" stroke="#4a0818"/>
<path d="M824,56.7 L824.8,43.4 C825.5,41 827,40.2 829,40 L836.9,39" stroke-width="2.25" stroke="#4a0818"/>
<path d="M839.3,52.6 L848.9,50.8" stroke-width="2.25" stroke="#4a0818"/>
<path d="M860.5,36.2 C861.5,33.5 864,31.5 866.5,31.2 C869.5,31 871,33 870.5,36 C870,39 867,43 864,47.5 C862,50.5 860,53.5 859.3,56 C862,55 867,54.5 872.1,54.2" stroke-width="2.25" stroke="#4a0818"/>
<path d="M883.3,44.2 C881.5,47 880,50 879.8,53 C879.7,56 882,56.3 884.9,55.4 L887.3,53.8" stroke-width="2.25" stroke="#4a0818"/>
<path d="M891.3,36.2 m-1.9,0 a1.9,1.9 0 1,0 3.8,0 a1.9,1.9 0 1,0 -3.8,0" stroke-width="2.00" stroke="#4a0818"/>
</g>
</svg>
</body></html>
